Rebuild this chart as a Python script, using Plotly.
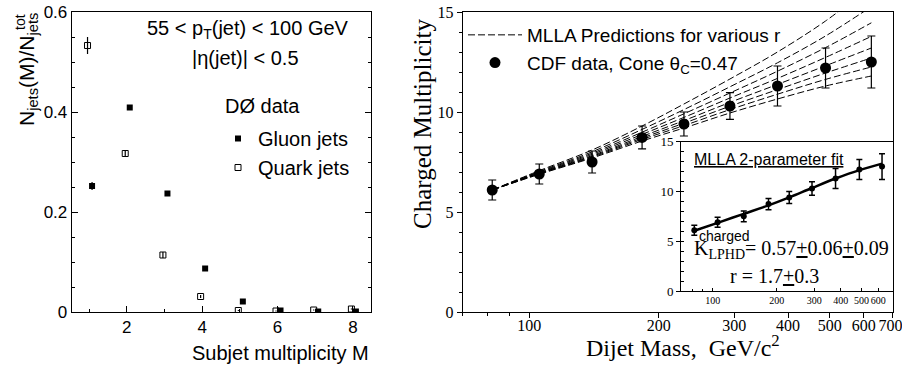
import math
import plotly.graph_objects as go

W, H = 902, 367

# ---------------- data: left panel (D0 subjet multiplicity) ----------------
subjet_M = [1, 2, 3, 4, 5, 6, 7, 8]
gluon_frac = [0.252, 0.409, 0.237, 0.087, 0.021, 0.003, 0.001, 0.001]
gluon_err = [0.008, 0.004, 0.003, 0.002, 0.001, 0.001, 0.001, 0.001]
quark_frac = [0.533, 0.317, 0.114, 0.031, 0.003, 0.002, 0.004, 0.006]
quark_err = [0.017, 0.007, 0.006, 0.003, 0.001, 0.001, 0.001, 0.001]
left_xticks = [2, 4, 6, 8]
left_yticks = [0, 0.2, 0.4, 0.6]

# ---------------- data: right panel (CDF charged multiplicity) -------------
dijet_mass = [82, 105.5, 140, 183, 229, 293, 378, 489, 625]
charged_mult = [6.1, 6.9, 7.5, 8.73, 9.4, 10.3, 11.3, 12.2, 12.5]
mult_err = [0.5, 0.5, 0.55, 0.57, 0.6, 0.67, 1.0, 1.0, 1.3]

mlla_mass = [82, 105, 140, 183, 229, 293, 378, 489, 625]
mlla_r1 = [6.10, 7.05, 8.10, 9.30, 10.40, 11.65, 13.00, 14.55, 16.30]
mlla_r2 = [6.10, 7.01, 8.01, 9.13, 10.12, 11.26, 12.46, 13.80, 15.27]
mlla_r3 = [6.10, 6.98, 7.94, 8.99, 9.91, 10.95, 12.04, 13.22, 14.46]
mlla_r4 = [6.10, 6.95, 7.88, 8.88, 9.73, 10.70, 11.68, 12.73, 13.78]
mlla_r5 = [6.10, 6.93, 7.82, 8.78, 9.57, 10.48, 11.38, 12.31, 13.20]
mlla_r6 = [6.10, 6.91, 7.78, 8.70, 9.44, 10.29, 11.12, 11.95, 12.70]
mlla_r7 = [6.10, 6.89, 7.74, 8.63, 9.32, 10.12, 10.89, 11.63, 12.25]
mlla_r8 = [6.10, 6.87, 7.70, 8.55, 9.20, 9.95, 10.65, 11.30, 11.80]
mlla_curves = [mlla_r1, mlla_r2, mlla_r3, mlla_r4, mlla_r5, mlla_r6, mlla_r7, mlla_r8]

fit_mult = [6.05, 6.85, 7.75, 8.6, 9.4, 10.35, 11.3, 12.15, 12.8]

main_xticks = [100, 200, 300, 400, 500, 600, 700]
main_xticktext = ["100", "200", "300", "400", "500", "600", "700\u00a0"]
inset_xticks = [100, 200, 300, 400, 500, 600]
minor_mass_ticks = [70, 80, 90]
mult_yticks = [0, 5, 10, 15]

# ---------------- helpers for layout positions (pixels -> paper) ----------
def px(x):
    return x / W

def py(y):
    return 1 - y / H

SANS = "Liberation Sans, Arial, sans-serif"
SERIF = "Liberation Serif, Times New Roman, serif"

fig = go.Figure()

# Left panel
fig.add_trace(go.Scatter(
    x=[m + 0.08 for m in subjet_M], y=gluon_frac, mode="markers",
    name="Gluon jets",
    marker=dict(symbol="square", size=6, color="black"),
    error_y=dict(type="data", array=gluon_err, width=0, thickness=1.2, color="black"),
    xaxis="x", yaxis="y", legend="legend"))
fig.add_trace(go.Scatter(
    x=[m - 0.04 for m in subjet_M], y=quark_frac, mode="markers",
    name="Quark jets",
    marker=dict(symbol="square-open", size=6, color="black", line=dict(width=1)),
    error_y=dict(type="data", array=quark_err, width=0, thickness=1.2, color="black"),
    xaxis="x", yaxis="y", legend="legend"))

# Right panel: MLLA curves
for i, curve in enumerate(mlla_curves):
    fig.add_trace(go.Scatter(
        x=mlla_mass, y=curve, mode="lines", line_shape="spline",
        name="MLLA Predictions for various r",
        line=dict(color="black", width=1, dash="7px,3px"),
        showlegend=(i == 0), xaxis="x2", yaxis="y2", legend="legend2"))

fig.add_trace(go.Scatter(
    x=dijet_mass, y=charged_mult, mode="markers",
    name="CDF data, Cone θ<sub>C</sub>=0.47",
    marker=dict(symbol="circle", size=11, color="black"),
    error_y=dict(type="data", array=mult_err, width=4, thickness=1.2, color="black"),
    xaxis="x2", yaxis="y2", legend="legend2"))

# Inset
fig.add_trace(go.Scatter(
    x=dijet_mass, y=fit_mult, mode="lines", line_shape="spline",
    line=dict(color="black", width=2.5), showlegend=False,
    xaxis="x3", yaxis="y3"))
fig.add_trace(go.Scatter(
    x=dijet_mass, y=charged_mult, mode="markers",
    marker=dict(symbol="circle", size=6, color="black"),
    error_y=dict(type="data", array=mult_err, width=3, thickness=1.5, color="black"),
    showlegend=False, xaxis="x3", yaxis="y3"))

ydom = [py(312), py(12)]
axis_common = dict(showgrid=False, zeroline=False, showline=True, linecolor="black",
                   linewidth=1, tickcolor="black")

fig.update_layout(
    width=W, height=H, autosize=False,
    margin=dict(l=0, r=0, t=0, b=0, pad=0, autoexpand=False),
    paper_bgcolor="white", plot_bgcolor="white",
    xaxis=dict(domain=[px(71.7), px(371)], range=[0.54, 8.48], anchor="y",
               tickvals=left_xticks, ticks="inside", ticklen=6,
               minor=dict(tickvals=[1, 3, 5, 7], ticks="inside", ticklen=3, tickcolor="black"),
               mirror=True, tickfont=dict(family=SANS, size=17, color="black"),
               **axis_common),
    yaxis=dict(domain=ydom, range=[0, 0.6], anchor="x",
               tickvals=left_yticks, ticktext=["0", "0.2", "0.4", "0.6"],
               ticks="inside", ticklen=6,
               minor=dict(dtick=0.05, ticks="inside", ticklen=3, tickcolor="black"),
               mirror="allticks", tickfont=dict(family=SANS, size=17, color="black"),
               **axis_common),
    xaxis2=dict(domain=[px(462.7), px(892.5)], type="log",
                range=[math.log10(70), math.log10(700)], anchor="y2",
                tickvals=main_xticks, ticktext=main_xticktext,
                ticks="outside", ticklen=5, ticklabeloverflow="allow",
                ticklabelstandoff=-6,
                minor=dict(tickvals=minor_mass_ticks, ticks="outside", ticklen=3, tickcolor="black"),
                mirror=True, tickfont=dict(family=SERIF, size=16, color="black"),
                **axis_common),
    yaxis2=dict(domain=ydom, range=[0, 15], anchor="x2",
                tickvals=mult_yticks, ticks="outside", ticklen=5,
                minor=dict(dtick=1, ticks="outside", ticklen=3, tickcolor="black"),
                mirror=True, tickfont=dict(family=SERIF, size=16, color="black"),
                **axis_common),
    xaxis3=dict(domain=[px(681), px(892.5)], type="log",
                range=[math.log10(71), math.log10(700)], anchor="y3",
                tickvals=inset_xticks, ticktext=[str(v) for v in inset_xticks],
                ticks="inside", ticklen=3, tickangle=0, ticklabeloverflow="allow",
                minor=dict(tickvals=minor_mass_ticks, ticks="inside", ticklen=2, tickcolor="black"),
                mirror=True, tickfont=dict(family=SERIF, size=10, color="black"),
                **axis_common),
    yaxis3=dict(domain=[py(291), py(141.7)], range=[0, 15], anchor="x3",
                tickvals=mult_yticks, ticks="outside", ticklen=4,
                minor=dict(dtick=1, ticks="inside", ticklen=3, tickcolor="black"),
                mirror=True, tickfont=dict(family=SERIF, size=13, color="black"),
                **axis_common),
    legend=dict(x=px(218), y=py(119), xanchor="left", yanchor="top",
                bgcolor="rgba(0,0,0,0)", borderwidth=0, tracegroupgap=0,
                font=dict(family=SANS, size=20, color="black")),
    legend2=dict(x=px(463), y=py(16), xanchor="left", yanchor="top",
                 bgcolor="rgba(0,0,0,0)", borderwidth=0, tracegroupgap=0,
                 itemwidth=54,
                 font=dict(family=SANS, size=19, color="black")),
)

ann = []
def add_text(text, x, y, size, family, xanchor="center", yanchor="middle", angle=0):
    ann.append(dict(text=text, x=px(x), y=py(y), xref="paper", yref="paper",
                    xanchor=xanchor, yanchor=yanchor, showarrow=False, textangle=angle,
                    font=dict(family=family, size=size, color="black")))

add_text("55 < p<sub>T</sub>(jet) < 100 GeV", 248, 30, 20, SANS)
add_text("|η(jet)| < 0.5", 245, 58, 20, SANS)
add_text("DØ data", 262, 106, 20, SANS)
add_text("N<sub>jets</sub>(M)/N<sub>jets</sub>", 28, 70, 21, SANS, angle=-90)
add_text("tot", 20, 22, 14, SANS, angle=-90)
add_text("Subjet multiplicity M", 371, 353, 20, SANS, xanchor="right")

add_text("Charged Multiplicity", 422, 124, 25, SERIF, angle=-90)
add_text("Dijet Mass,\u00a0 GeV/c<sup>2</sup>", 683, 346, 24, SERIF)

add_text("<u>MLLA 2-parameter fit</u>", 769, 159, 16, SANS)
add_text("K<sub>LPHD</sub>= 0.57<u>+</u>0.06<u>+</u>0.09", 692, 249, 20, SERIF, xanchor="left")
add_text("charged", 724, 236, 14, SANS)
add_text("r = 1.7<u>+</u>0.3", 774, 276, 20, SERIF)

fig.update_layout(annotations=ann)

fig.write_html("out.html", config={"displayModeBar": False},
               post_script="document.body.style.margin='0px';")
